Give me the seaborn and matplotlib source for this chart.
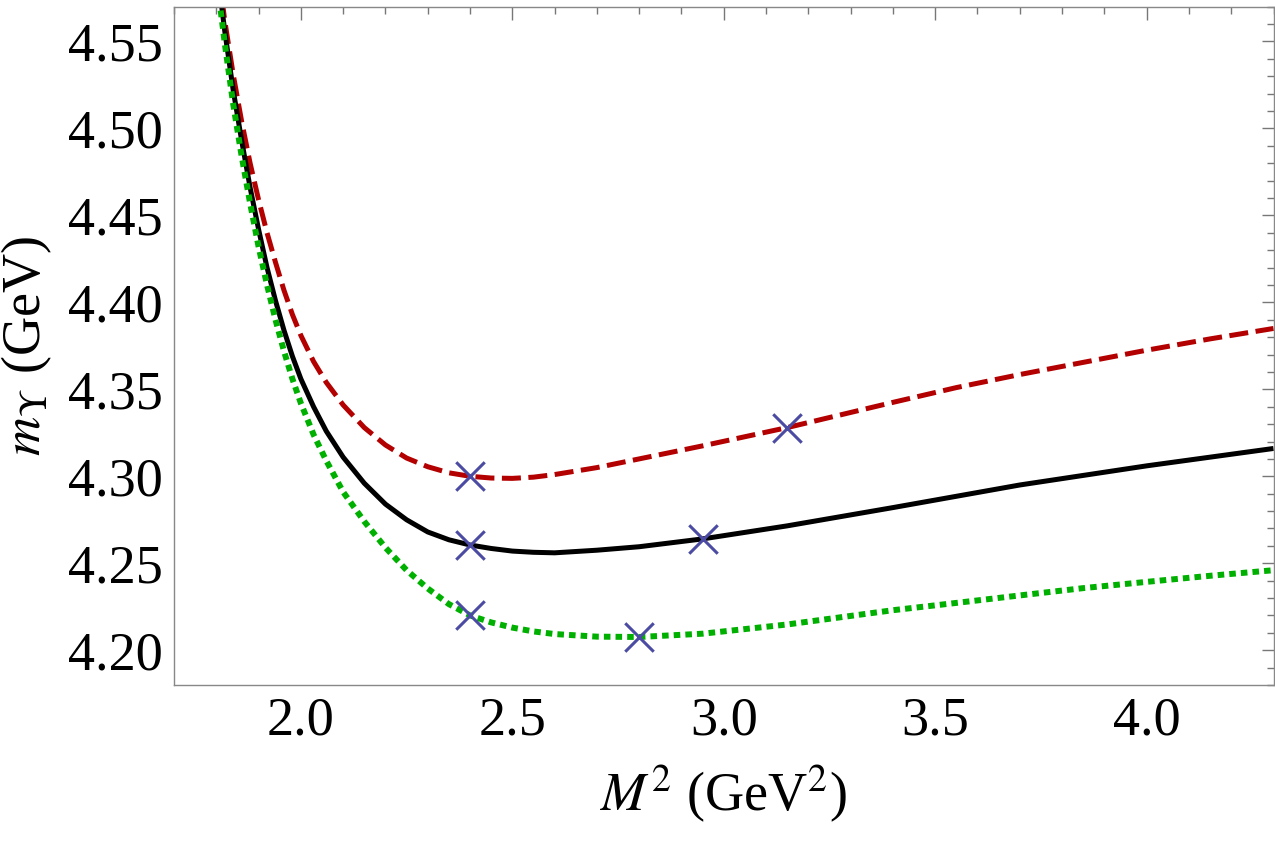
import numpy as np
import pandas as pd
import matplotlib
matplotlib.use("Agg")
import matplotlib.pyplot as plt
from matplotlib.ticker import MultipleLocator, FormatStrFormatter
import seaborn as sns

# ---- data ----
m2 = [1.80, 1.82, 1.84, 1.86, 1.88, 1.90, 1.92, 1.94, 1.96, 1.98, 2.00, 2.03, 2.06, 2.10,
      2.15, 2.20, 2.25, 2.30, 2.35, 2.40, 2.45, 2.50, 2.55, 2.60, 2.70, 2.80, 2.95, 3.15,
      3.40, 3.55, 3.70, 3.85, 4.00, 4.15, 4.30]
m_central = [4.595, 4.556, 4.522, 4.493, 4.466, 4.442, 4.420, 4.401, 4.384, 4.369, 4.356,
             4.340, 4.326, 4.311, 4.296, 4.284, 4.275, 4.268, 4.2635, 4.2605, 4.2585,
             4.2570, 4.2563, 4.2560, 4.2575, 4.2595, 4.2640, 4.2715, 4.2820, 4.2885,
             4.2950, 4.3005, 4.3060, 4.3110, 4.3160]
m_upper = [4.600, 4.562, 4.531, 4.504, 4.480, 4.459, 4.440, 4.423, 4.407, 4.393, 4.381,
           4.366, 4.354, 4.341, 4.328, 4.318, 4.3105, 4.3055, 4.302, 4.300, 4.299, 4.2988,
           4.2995, 4.301, 4.305, 4.310, 4.3175, 4.328, 4.3425, 4.351, 4.3585, 4.3655,
           4.3725, 4.379, 4.385]
m_lower = [4.588, 4.549, 4.514, 4.484, 4.457, 4.432, 4.410, 4.390, 4.372, 4.356, 4.342,
           4.324, 4.309, 4.291, 4.274, 4.259, 4.246, 4.2355, 4.2265, 4.2200, 4.2160,
           4.2130, 4.2108, 4.2093, 4.2078, 4.2076, 4.2095, 4.2148, 4.2230, 4.2272,
           4.2315, 4.2357, 4.2393, 4.2428, 4.2460]

mark_x = [2.40, 3.15, 2.40, 2.95, 2.40, 2.80]
mark_y = [4.300, 4.328, 4.2605, 4.264, 4.220, 4.2076]

x_ticks = [2.0, 2.5, 3.0, 3.5, 4.0]
y_ticks = [4.20, 4.25, 4.30, 4.35, 4.40, 4.45, 4.50, 4.55]

# ---- styling ----
sns.set_style("white")
plt.rcParams['font.family'] = ['Liberation Serif', 'DejaVu Serif']
plt.rcParams['mathtext.fontset'] = 'stix'
plt.rcParams['text.color'] = 'black'
plt.rcParams['axes.labelcolor'] = 'black'

df = pd.DataFrame({
    "M2": m2 * 3,
    "m": m_upper + m_central + m_lower,
    "curve": ["upper"] * len(m2) + ["central"] * len(m2) + ["lower"] * len(m2),
})
marks = pd.DataFrame({"M2": mark_x, "m": mark_y})

fig = plt.figure(figsize=(12.75, 8.42), dpi=100)
ax = fig.add_axes([174 / 1275, 1 - 685 / 842, (1273.5 - 174) / 1275, (685 - 6.7) / 842])

palette = {"upper": "#B30000", "central": "#000000", "lower": "#00B000"}
styles = {"upper": dict(lw=3.6, dashes=(3.8, 1.5)),
          "central": dict(lw=3.6, dashes=None),
          "lower": dict(lw=4.3, dashes=(1.1, 0.85))}

for name in ["upper", "central", "lower"]:
    sub = df[df["curve"] == name]
    sns.lineplot(data=sub, x="M2", y="m", ax=ax, color=palette[name],
                 lw=styles[name]["lw"], sort=False, legend=False, estimator=None)
    line = ax.lines[-1]
    line.set_solid_capstyle('butt')
    line.set_dash_capstyle('butt')
    line.set_solid_joinstyle('round')
    if styles[name]["dashes"] is not None:
        line.set_linestyle((0, styles[name]["dashes"]))

sns.scatterplot(data=marks, x="M2", y="m", ax=ax, marker="x", s=420,
                color="#4B4BA3", linewidth=2.2, zorder=5, legend=False)

ax.set_xlim(1.7, 4.3)
ax.set_ylim(4.18, 4.57)

ax.xaxis.set_major_locator(MultipleLocator(0.5))
ax.xaxis.set_minor_locator(MultipleLocator(0.1))
ax.yaxis.set_major_locator(MultipleLocator(0.05))
ax.yaxis.set_minor_locator(MultipleLocator(0.01))
ax.xaxis.set_major_formatter(FormatStrFormatter('%.1f'))
ax.yaxis.set_major_formatter(FormatStrFormatter('%.2f'))
ax.set_xticks(x_ticks)
ax.set_yticks(y_ticks)

ax.tick_params(which='both', direction='in', top=True, right=True,
               color='#777777', width=1.0)
ax.tick_params(which='major', length=9, labelsize=39, pad=8, labelcolor='black')
ax.tick_params(which='minor', length=5)
for sp in ax.spines.values():
    sp.set_color('#888888')
    sp.set_linewidth(1.0)

ax.set_xlabel(r'$M^2$ (GeV$^2$)', fontsize=39, labelpad=12, color='black')
ax.set_ylabel(r'$m_{\Upsilon}$ (GeV)', fontsize=39, labelpad=10, color='black')

fig.savefig("out.png", dpi=100)
